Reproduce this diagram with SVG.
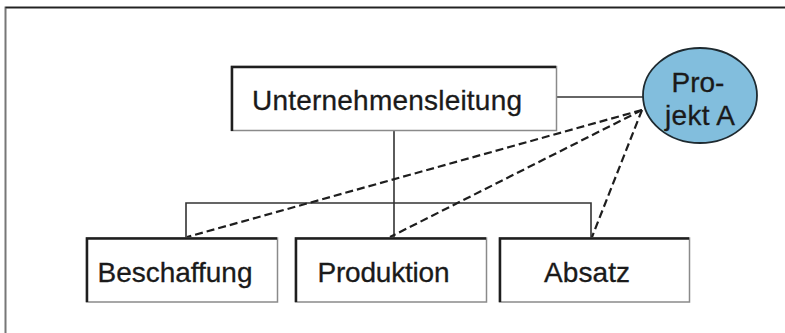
<svg xmlns="http://www.w3.org/2000/svg" width="785" height="333" viewBox="0 0 785 333">
<style>
.box{fill:#fff;stroke:#8a8a8a;stroke-width:1.5}
.edge{fill:none;stroke:#1e1e1e;stroke-width:2.5}
.lbl{font-family:"Liberation Sans",Arial,sans-serif;font-size:28px;fill:#1a1a1a;stroke:#1a1a1a;stroke-width:0.3}
.solid{fill:none;stroke:#333;stroke-width:1.6}
.dash{fill:none;stroke:#1e1e1e;stroke-width:2.2;stroke-dasharray:8 4}
</style>
<rect width="785" height="333" fill="#fff"/>
<g id="frame">
<path d="M5.5,340 V7.5 H790" fill="none" stroke="#777" stroke-width="2"/>
<path d="M5.5,7.5 H790" fill="none" stroke="#222" stroke-width="1.5"/>
</g>
<g id="connectors">
<line class="solid" x1="556" y1="97" x2="644" y2="97"/>
<line class="solid" x1="394" y1="131" x2="394" y2="238"/>
<path class="solid" d="M186,238 V203 H591 V238"/>
<line class="dash" x1="642" y1="110" x2="187" y2="237"/>
<line class="dash" x1="642" y1="110" x2="390" y2="237"/>
<line class="dash" x1="642" y1="110" x2="592" y2="237"/>
</g>
<g id="unternehmensleitung">
<rect class="box" x="231.5" y="66.5" width="325" height="64"/>
<path class="edge" d="M232,131 V67 H556"/>
<text class="lbl" x="252" y="110" textLength="270">Unternehmensleitung</text>
</g>
<g id="projekt-a">
<ellipse cx="700" cy="95.5" rx="57" ry="47.5" fill="#82bedd" stroke="#1e2a30" stroke-width="1.8"/>
<text class="lbl" x="698" y="92" text-anchor="middle" font-size="27">Pro-</text>
<text class="lbl" x="700" y="125" text-anchor="middle" font-size="27" textLength="70">jekt A</text>
</g>
<g id="beschaffung">
<rect class="box" x="86.5" y="238" width="191" height="64"/>
<path class="edge" d="M87,302 V238.5 H277"/>
<text class="lbl" x="97.5" y="282" textLength="155">Beschaffung</text>
</g>
<g id="produktion">
<rect class="box" x="295.5" y="238" width="191" height="64"/>
<path class="edge" d="M296,302 V238.5 H486"/>
<text class="lbl" x="317.5" y="282" textLength="132">Produktion</text>
</g>
<g id="absatz">
<rect class="box" x="499.5" y="238" width="190" height="64"/>
<path class="edge" d="M500,302 V238.5 H689"/>
<text class="lbl" x="544" y="282" textLength="86">Absatz</text>
</g>
</svg>
